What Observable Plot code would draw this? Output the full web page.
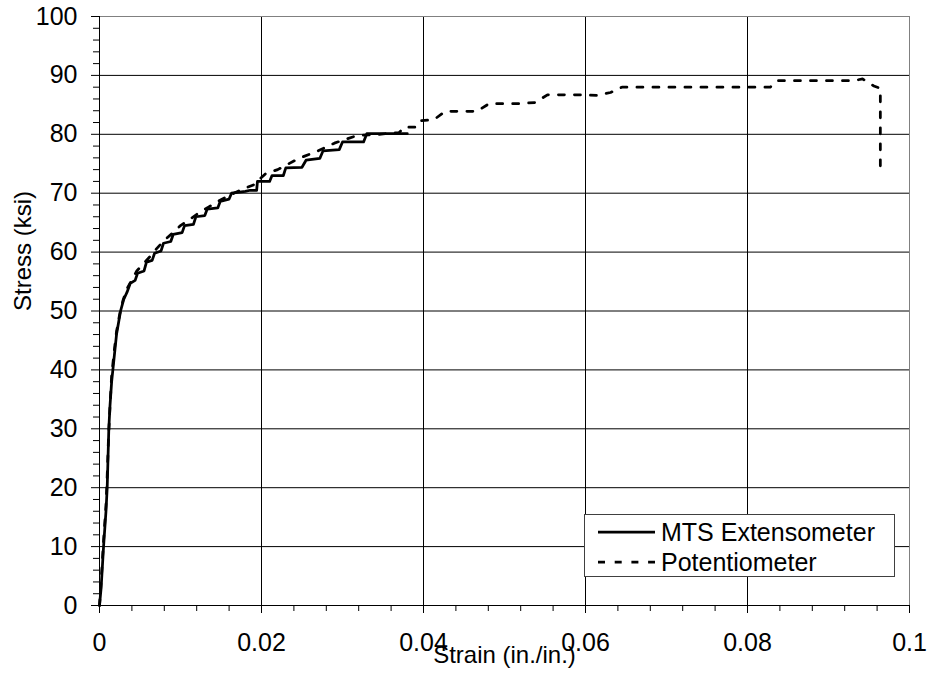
<!DOCTYPE html>
<html><head><meta charset="utf-8">
<script src="https://cdn.jsdelivr.net/npm/d3@7"></script>
<script src="https://cdn.jsdelivr.net/npm/@observablehq/plot@0.6"></script>
<style>
html,body{margin:0;padding:0;background:#fff}
#chart svg{font-family:"Liberation Sans",Arial,sans-serif;display:block}
</style>
</head><body><div id="chart"></div>
<script>
// MTS Extensometer (solid)
const mtsStrain = [0,0.0002,0.0005,0.0008,0.00095,0.00105,0.00115,0.0013,0.0015,0.0018,0.0021,0.0026,0.0030,0.0034,0.0038,0.0044,0.0047,0.0055,0.0058,0.0065,0.0068,0.0076,0.0079,0.0088,0.0091,0.0102,0.0105,0.0116,0.0119,0.0130,0.0133,0.0146,0.0149,0.0160,0.0163,0.0180,0.0186,0.0194,0.0195,0.0210,0.0213,0.0227,0.0230,0.0250,0.0255,0.0272,0.0276,0.0296,0.0300,0.0326,0.0330,0.0380];
const mtsStress = [0,3,10,16,20,25,30,34,38,42,46,50,52,53.2,54.7,55.2,56.4,56.8,58.3,58.6,59.8,60.2,61.5,61.8,63,63.3,64.5,64.7,66,66.2,67.3,67.5,68.6,69,70,70.3,70.5,70.5,72,72,73,73,74.3,74.4,75.6,75.9,77.2,77.4,78.7,78.7,80.1,80.1];
// Potentiometer (dashed)
const potStrain = [0,0.0002,0.0005,0.0008,0.00095,0.0011,0.0013,0.0015,0.0018,0.0021,0.0025,0.0029,0.0034,0.0040,0.0046,0.0054,0.0062,0.0070,0.0080,0.0090,0.0100,0.0110,0.0122,0.0134,0.0146,0.0160,0.0175,0.0190,0.0205,0.0220,0.0246,0.0270,0.0290,0.0318,0.0345,0.0370,0.0376,0.0390,0.0396,0.0413,0.0427,0.0466,0.0481,0.0518,0.0538,0.0553,0.0592,0.0614,0.0631,0.0645,0.0828,0.0837,0.0931,0.0942,0.0956,0.0964,0.0964];
const potStress = [0,4,11,17,22,28,34,39,43,46.5,49.5,51.8,53.8,55.3,56.8,58,59.2,60.5,62,63.2,64.5,65.4,66.6,67.6,68.6,69.6,70.6,71.4,73.3,74,75.9,77.2,78.5,79.8,80,80.3,81.2,81.2,82.3,82.5,83.9,83.9,85.2,85.2,85.4,86.7,86.7,86.6,87.1,88,88,89.1,89.1,89.4,88.2,87.8,74.4];

const xMajorTicks = [0,0.02,0.04,0.06,0.08,0.1];
const xTickLabels = ["0","0.02","0.04","0.06","0.08","0.1"];
const xMinorTicks = [0.004,0.008,0.012,0.016,0.024,0.028,0.032,0.036,0.044,0.048,0.052,0.056,0.064,0.068,0.072,0.076,0.084,0.088,0.092,0.096];
const yMajorTicks = [0,10,20,30,40,50,60,70,80,90,100];
const yTickLabels = ["0","10","20","30","40","50","60","70","80","90","100"];
const yMinorTicks = [2,4,6,8,12,14,16,18,22,24,26,28,32,34,36,38,42,44,46,48,52,54,56,58,62,64,66,68,72,74,76,78,82,84,86,88,92,94,96,98];
const xGrid = [0.02,0.04,0.06,0.08];
const yGrid = [10,20,30,40,50,60,70,80,90];
const xTitle = "Strain (in./in.)";
const yTitle = "Stress (ksi)";
const seriesNames = ["MTS Extensometer","Potentiometer"];

const mts = mtsStrain.map((x,i)=>({x, y: mtsStress[i]}));
const pot = potStrain.map((x,i)=>({x, y: potStress[i]}));

const font = "Liberation Sans, Arial, sans-serif";
const chart = Plot.plot({
  width: 934, height: 680,
  marginLeft: 99, marginRight: 25, marginTop: 16, marginBottom: 75,
  style: {fontFamily: font, fontSize: "25px", background: "#fff", color: "#000", overflow: "visible"},
  x: {domain: [0, 0.1]},
  y: {domain: [0, 100]},
  marks: [
    Plot.gridY(yGrid, {stroke: "#000", strokeOpacity: 1, strokeWidth: 1}),
    Plot.gridX(xGrid, {stroke: "#000", strokeOpacity: 1, strokeWidth: 1}),
    Plot.frame({stroke: "#808080"}),
    Plot.axisY({ticks: yMinorTicks, tickSize: 6, tickFormat: () => "", label: null, stroke: "#000"}),
    Plot.axisY({ticks: yMajorTicks, tickSize: 8, tickPadding: 14, fontSize: 25, label: null, stroke: "#000", fill: "#000",
      tickFormat: d => yTickLabels[yMajorTicks.indexOf(d)]}),
    Plot.axisX({ticks: xMinorTicks, tickSize: 6, tickFormat: () => "", label: null, stroke: "#000"}),
    Plot.axisX({ticks: xMajorTicks, tickSize: 8, tickPadding: 20, fontSize: 25, label: null, stroke: "#000", fill: "#000",
      tickFormat: d => xTickLabels[xMajorTicks.indexOf(d)]}),
    Plot.ruleX([0], {stroke: "#000"}),
    Plot.ruleY([0], {stroke: "#000"}),
    Plot.line(mts, {x: "x", y: "y", stroke: "#000", strokeWidth: 2.75}),
    Plot.line(pot, {x: "x", y: "y", stroke: "#000", strokeWidth: 2.75, strokeDasharray: "6,10"}),
    Plot.text([xTitle], {frameAnchor: "bottom", dy: 57, fontSize: 24, fill: "#000"}),
    Plot.text([yTitle], {frameAnchor: "left", dx: -76, rotate: -90, fontSize: 24, fill: "#000"})
  ]
});
document.getElementById("chart").appendChild(chart);

// Legend inside the plot area
const svg = d3.select(chart);
const lg = svg.append("g").attr("font-family", font).attr("font-size", 25).attr("text-anchor", "start");
lg.append("rect").attr("x", 584.5).attr("y", 514.5).attr("width", 310).attr("height", 62)
  .attr("fill", "#fff").attr("stroke", "#404040").attr("stroke-width", 1);
const rows = [{y: 532, dash: null}, {y: 562, dash: "7,9.7"}];
rows.forEach((r, i) => {
  lg.append("line").attr("x1", 598).attr("x2", 655).attr("y1", r.y).attr("y2", r.y)
    .attr("stroke", "#000").attr("stroke-width", 2.75).attr("stroke-dasharray", r.dash);
  lg.append("text").attr("x", 661).attr("y", r.y).attr("dy", "0.35em").attr("fill", "#000")
    .attr("text-anchor", "start").text(seriesNames[i]);
});
</script>
</body></html>
